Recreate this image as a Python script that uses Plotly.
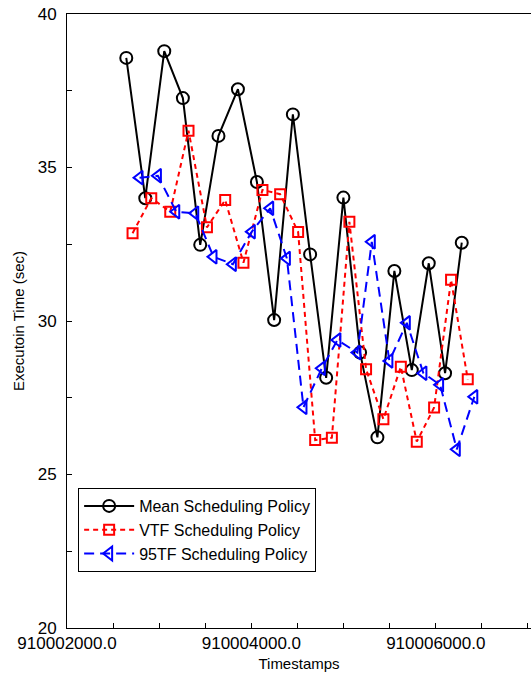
import plotly.graph_objects as go

# Timestamps for each series
mean_t = [910002643, 910002849, 910003055, 910003257, 910003445, 910003643, 910003854,
          910004060, 910004247, 910004450, 910004637, 910004811, 910004998, 910005179,
          910005367, 910005551, 910005740, 910005924, 910006101, 910006282]
mean_v = [38.57, 34.00, 38.79, 37.26, 32.48, 36.03, 37.55, 34.53, 30.03, 36.73,
          32.17, 28.15, 34.02, 28.97, 26.21, 31.63, 28.40, 31.88, 28.30, 32.55]

vtf_t = [910002711, 910002914, 910003120, 910003318, 910003518, 910003716, 910003914,
         910004120, 910004312, 910004507, 910004692, 910004873, 910005063, 910005244,
         910005432, 910005621, 910005794, 910005982, 910006166, 910006347]
vtf_v = [32.86, 34.00, 33.56, 36.20, 33.05, 33.94, 31.90, 34.27, 34.13, 32.90,
         26.12, 26.20, 33.23, 28.43, 26.80, 28.51, 26.07, 27.18, 31.34, 28.10]

tf95_t = [910002787, 910002986, 910003185, 910003391, 910003589, 910003799, 910004005,
          910004204, 910004385, 910004565, 910004764, 910004933, 910005150, 910005306,
          910005497, 910005686, 910005866, 910006047, 910006228, 910006418]
tf95_v = [34.67, 34.73, 33.56, 33.51, 32.09, 31.85, 32.91, 33.67, 32.04, 27.19,
          28.46, 29.38, 28.97, 32.58, 28.70, 29.94, 28.30, 27.92, 25.82, 27.53]

series_names = ["Mean Scheduling Policy", "VTF Scheduling Policy", "95TF Scheduling Policy"]
x_ticks = [910002000, 910004000, 910006000]
y_ticks = [20, 25, 30, 35, 40]

FONT = "Liberation Sans, Arial, sans-serif"

fig = go.Figure()
fig.add_trace(go.Scatter(
    x=mean_t, y=mean_v, name=series_names[0], mode="lines+markers",
    line=dict(color="black", width=2),
    marker=dict(symbol="circle-open", size=12, color="black", line=dict(width=2))))
fig.add_trace(go.Scatter(
    x=vtf_t, y=vtf_v, name=series_names[1], mode="lines+markers",
    line=dict(color="#ff0000", width=2, dash="5px,4px"),
    marker=dict(symbol="square-open", size=10, color="#ff0000", line=dict(width=2))))
fig.add_trace(go.Scatter(
    x=tf95_t, y=tf95_v, name=series_names[2], mode="lines+markers",
    line=dict(color="#0000ff", width=2, dash="10px,6px"),
    marker=dict(symbol="triangle-left-open", size=12, color="#0000ff", line=dict(width=2))))

fig.update_layout(
    width=531, height=681,
    margin=dict(l=67, r=0, t=14, b=53, autoexpand=False),
    paper_bgcolor="white", plot_bgcolor="white",
    font=dict(family=FONT, size=16, color="black"),
    showlegend=True,
    legend=dict(
        x=0.024, y=0.228, xanchor="left", yanchor="top",
        bgcolor="white", bordercolor="black", borderwidth=1,
        font=dict(family=FONT, size=16, color="black"),
        itemwidth=50, tracegroupgap=0),
)
fig.update_xaxes(
    range=[910002000, 910007033], automargin=False,
    tickmode="array", tickvals=x_ticks, tickformat=".1f",
    ticks="inside", ticklen=5, tickcolor="black",
    minor=dict(dtick=500, tick0=910002000, ticks="inside", ticklen=5, tickcolor="black"),
    showline=True, linecolor="black", linewidth=1, mirror=True,
    showgrid=False, zeroline=False,
    title=dict(text="Timestamps", font=dict(size=15), standoff=6),
    tickfont=dict(size=17),
)
fig.update_yaxes(
    range=[20, 40], automargin=False,
    tickmode="array", tickvals=y_ticks,
    ticks="inside", ticklen=5, tickcolor="black",
    minor=dict(dtick=2.5, tick0=20, ticks="inside", ticklen=5, tickcolor="black"),
    showline=True, linecolor="black", linewidth=1,
    showgrid=False, zeroline=False,
    ticklabelstandoff=6,
    title=dict(text="Executoin Time (sec)", font=dict(size=15), standoff=9),
    tickfont=dict(size=17),
)

fig.write_html(
    "out.html",
    config={"displayModeBar": False},
    post_script="document.body.style.margin='0';document.body.style.overflow='hidden';",
)
